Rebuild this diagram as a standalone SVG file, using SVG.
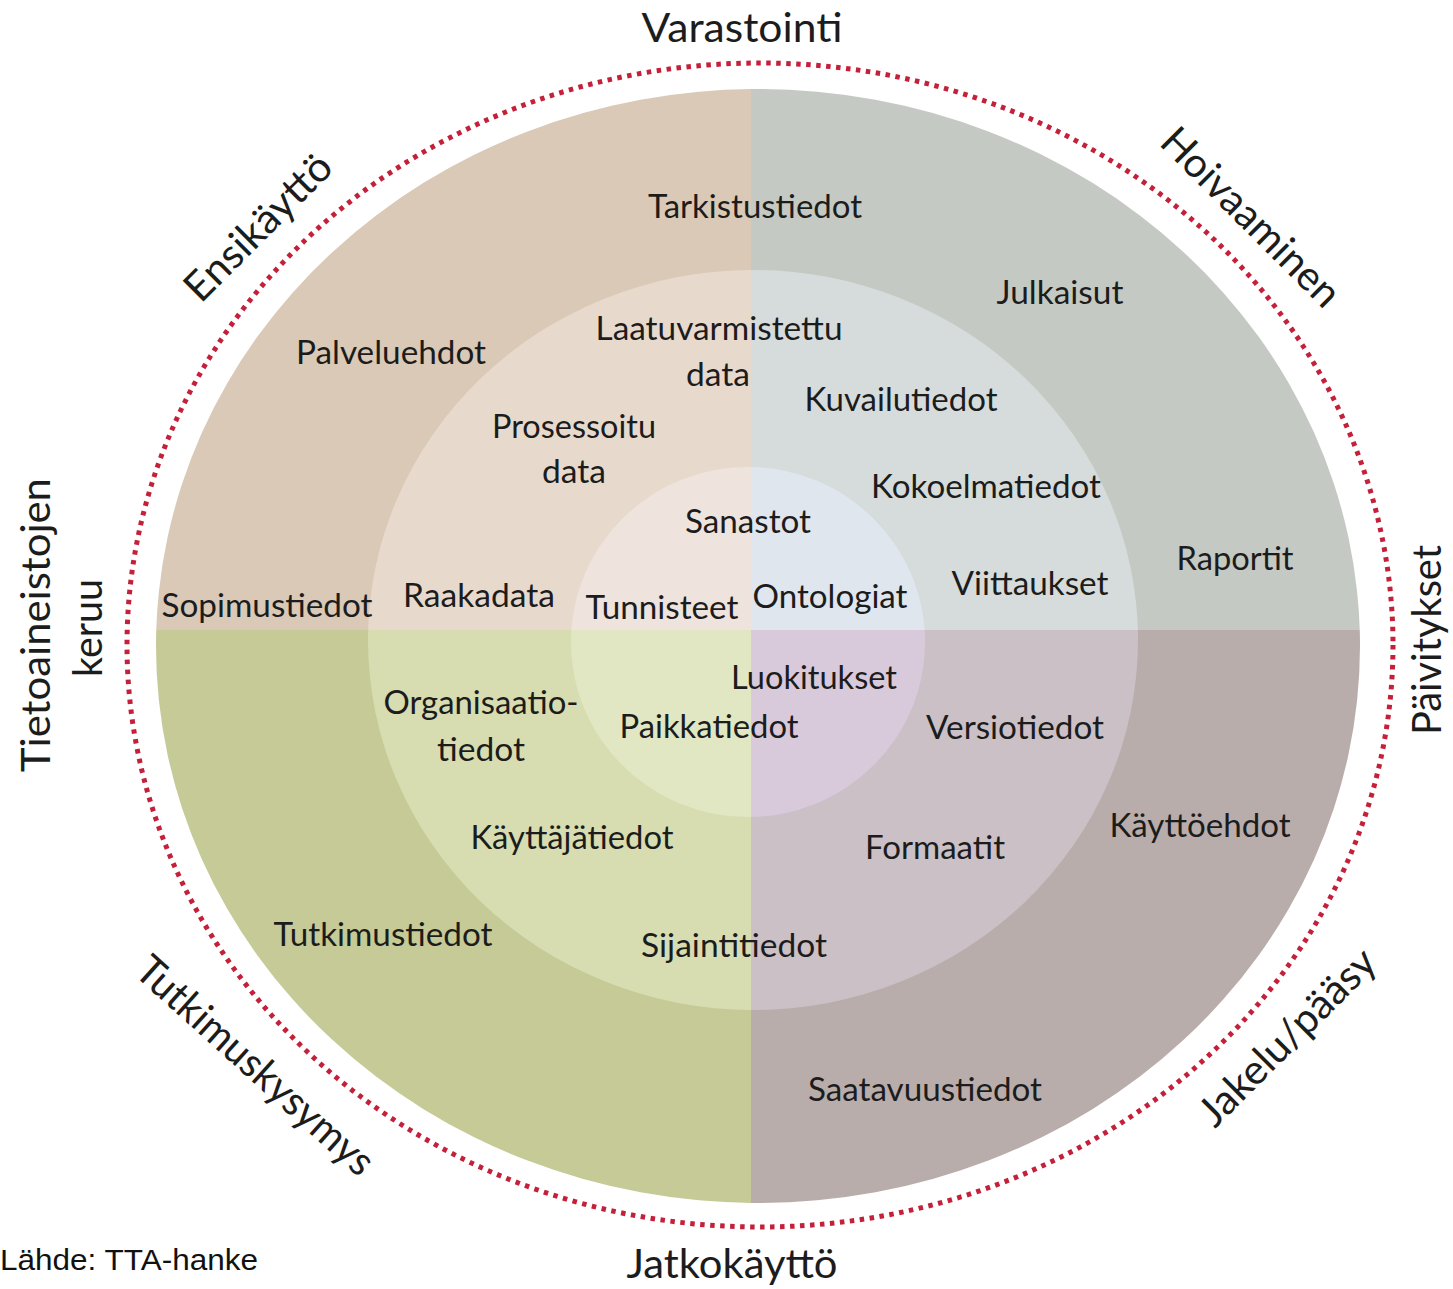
<svg xmlns="http://www.w3.org/2000/svg" width="1453" height="1289" viewBox="0 0 1453 1289">
<style>
.lbl{font-family:Lato,"Open Sans","Liberation Sans",sans-serif;font-size:32px;fill:#1c1c1c;text-anchor:middle}
.out{font-family:Lato,"Open Sans","Liberation Sans",sans-serif;font-size:41px;fill:#1c1c1c;text-anchor:middle}
.src{font-family:"Liberation Sans",Arial,sans-serif;font-size:30px;fill:#111}
</style>
<defs>
<clipPath id="qTL"><rect x="0" y="0" width="751" height="630"/></clipPath>
<clipPath id="qTR"><rect x="751" y="0" width="702" height="630"/></clipPath>
<clipPath id="qBL"><rect x="0" y="630" width="751" height="659"/></clipPath>
<clipPath id="qBR"><rect x="751" y="630" width="702" height="659"/></clipPath>
</defs>
<rect width="1453" height="1289" fill="#ffffff"/>
<g id="ring-dotted">
<ellipse cx="760" cy="645" rx="633" ry="582" fill="none" stroke="#c4203a" stroke-width="5" stroke-dasharray="4.5 5.5"/>
</g>
<g id="quadrant-tl" clip-path="url(#qTL)">
<ellipse cx="758" cy="646" rx="602" ry="557" fill="#d9c9b6"/>
<ellipse cx="753" cy="640" rx="385" ry="370" fill="#e7dacd"/>
<ellipse cx="748" cy="642" rx="177" ry="175" fill="#efe3dd"/>
</g>
<g id="quadrant-tr" clip-path="url(#qTR)">
<ellipse cx="758" cy="646" rx="602" ry="557" fill="#c5c9c3"/>
<ellipse cx="753" cy="640" rx="385" ry="370" fill="#d6dcdb"/>
<ellipse cx="748" cy="642" rx="177" ry="175" fill="#dfe6ee"/>
</g>
<g id="quadrant-bl" clip-path="url(#qBL)">
<ellipse cx="758" cy="646" rx="602" ry="557" fill="#c5ca97"/>
<ellipse cx="753" cy="640" rx="385" ry="370" fill="#d7ddb1"/>
<ellipse cx="748" cy="642" rx="177" ry="175" fill="#e1e7c2"/>
</g>
<g id="quadrant-br" clip-path="url(#qBR)">
<ellipse cx="758" cy="646" rx="602" ry="557" fill="#b9adab"/>
<ellipse cx="753" cy="640" rx="385" ry="370" fill="#cbc0c6"/>
<ellipse cx="748" cy="642" rx="177" ry="175" fill="#d9cadb"/>
</g>
<g id="connectors"></g>
<g id="inner-labels">
<text class="lbl" x="755" y="218" textLength="214" lengthAdjust="spacingAndGlyphs">Tarkistustiedot</text>
<text class="lbl" x="1060" y="304" textLength="127" lengthAdjust="spacingAndGlyphs">Julkaisut</text>
<text class="lbl" x="391" y="364" textLength="190" lengthAdjust="spacingAndGlyphs">Palveluehdot</text>
<text class="lbl" x="719" y="340" textLength="247" lengthAdjust="spacingAndGlyphs">Laatuvarmistettu</text>
<text class="lbl" x="718" y="386" textLength="64" lengthAdjust="spacingAndGlyphs">data</text>
<text class="lbl" x="901" y="411" textLength="193" lengthAdjust="spacingAndGlyphs">Kuvailutiedot</text>
<text class="lbl" x="574" y="438" textLength="164" lengthAdjust="spacingAndGlyphs">Prosessoitu</text>
<text class="lbl" x="574" y="483" textLength="64" lengthAdjust="spacingAndGlyphs">data</text>
<text class="lbl" x="986" y="498" textLength="230" lengthAdjust="spacingAndGlyphs">Kokoelmatiedot</text>
<text class="lbl" x="748" y="533" textLength="126" lengthAdjust="spacingAndGlyphs">Sanastot</text>
<text class="lbl" x="1235" y="570" textLength="117" lengthAdjust="spacingAndGlyphs">Raportit</text>
<text class="lbl" x="1030" y="595" textLength="157" lengthAdjust="spacingAndGlyphs">Viittaukset</text>
<text class="lbl" x="267" y="617" textLength="211" lengthAdjust="spacingAndGlyphs">Sopimustiedot</text>
<text class="lbl" x="479" y="607" textLength="152" lengthAdjust="spacingAndGlyphs">Raakadata</text>
<text class="lbl" x="662" y="619" textLength="153" lengthAdjust="spacingAndGlyphs">Tunnisteet</text>
<text class="lbl" x="830" y="608" textLength="155" lengthAdjust="spacingAndGlyphs">Ontologiat</text>
<text class="lbl" x="814" y="689" textLength="166" lengthAdjust="spacingAndGlyphs">Luokitukset</text>
<text class="lbl" x="481" y="714" textLength="195" lengthAdjust="spacingAndGlyphs">Organisaatio-</text>
<text class="lbl" x="481" y="761" textLength="88" lengthAdjust="spacingAndGlyphs">tiedot</text>
<text class="lbl" x="709" y="738" textLength="179" lengthAdjust="spacingAndGlyphs">Paikkatiedot</text>
<text class="lbl" x="1015" y="739" textLength="178" lengthAdjust="spacingAndGlyphs">Versiotiedot</text>
<text class="lbl" x="1200" y="837" textLength="181" lengthAdjust="spacingAndGlyphs">Käyttöehdot</text>
<text class="lbl" x="572" y="849" textLength="203" lengthAdjust="spacingAndGlyphs">Käyttäjätiedot</text>
<text class="lbl" x="935" y="859" textLength="140" lengthAdjust="spacingAndGlyphs">Formaatit</text>
<text class="lbl" x="383" y="946" textLength="219" lengthAdjust="spacingAndGlyphs">Tutkimustiedot</text>
<text class="lbl" x="734" y="957" textLength="186" lengthAdjust="spacingAndGlyphs">Sijaintitiedot</text>
<text class="lbl" x="925" y="1101" textLength="234" lengthAdjust="spacingAndGlyphs">Saatavuustiedot</text>
</g>
<g id="outer-labels">
<text class="out" x="742" y="42" textLength="201" lengthAdjust="spacingAndGlyphs">Varastointi</text>
<text class="out" x="732" y="1278" textLength="211" lengthAdjust="spacingAndGlyphs">Jatkokäyttö</text>
<text class="out" transform="translate(1441,640) rotate(-90)" x="0" y="0" textLength="190" lengthAdjust="spacingAndGlyphs">Päivitykset</text>
<text class="out" transform="translate(50,625) rotate(-90)" x="0" y="0" textLength="294" lengthAdjust="spacingAndGlyphs">Tietoaineistojen</text>
<text class="out" transform="translate(102,628) rotate(-90)" x="0" y="0" textLength="98" lengthAdjust="spacingAndGlyphs">keruu</text>
<text class="out" transform="translate(268,237) rotate(-45)" x="0" y="0" textLength="190" lengthAdjust="spacingAndGlyphs">Ensikäyttö</text>
<text class="out" transform="translate(1241,227) rotate(45)" x="0" y="0" textLength="235" lengthAdjust="spacingAndGlyphs">Hoivaaminen</text>
<text class="out" transform="translate(1297,1047) rotate(-45)" x="0" y="0" textLength="232" lengthAdjust="spacingAndGlyphs">Jakelu/pääsy</text>
<text class="out" transform="translate(246,1076) rotate(42)" x="0" y="0" textLength="305" lengthAdjust="spacingAndGlyphs">Tutkimuskysymys</text>
</g>
<g id="source">
<text class="src" x="0" y="1270" textLength="258" lengthAdjust="spacingAndGlyphs">Lähde: TTA-hanke</text>
</g>
</svg>
